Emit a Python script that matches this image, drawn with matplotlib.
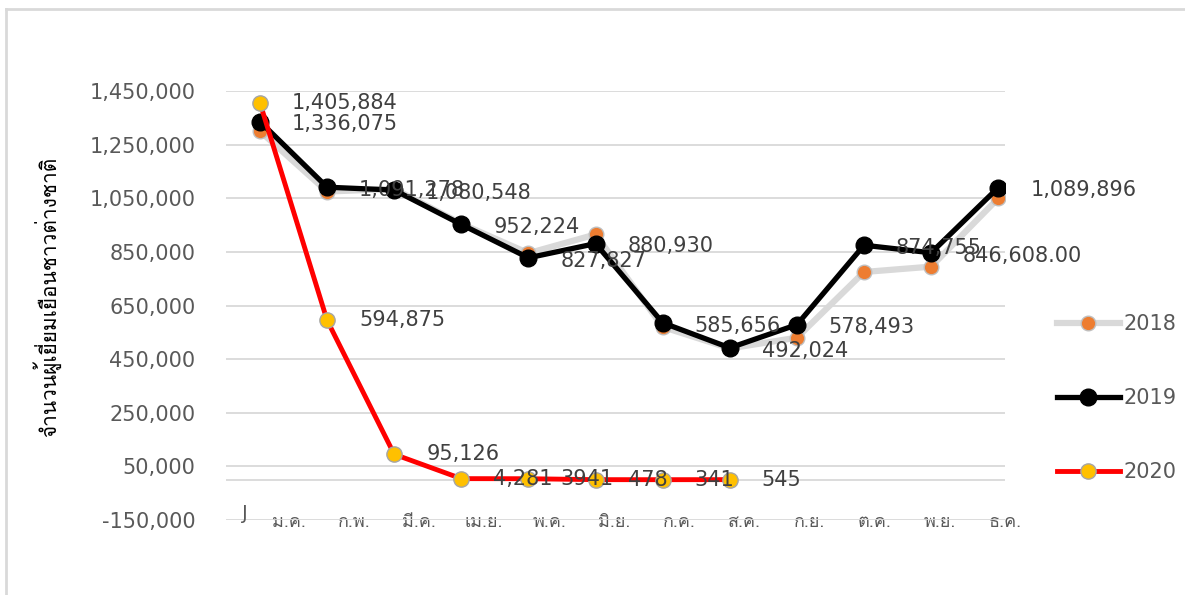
import matplotlib
matplotlib.use('Agg')
import matplotlib.pyplot as plt
from matplotlib import font_manager
from matplotlib.ft2font import FT2Font

# monthly foreign visitors, Jan..Dec
months = ['ม.ค.', 'ก.พ.', 'มี.ค.', 'เม.ย.', 'พ.ค.', 'มิ.ย.',
          'ก.ค.', 'ส.ค.', 'ก.ย.', 'ต.ค.', 'พ.ย.', 'ธ.ค.']
v2018 = [1300000, 1075000, 1085000, 955000, 845000, 915000,
         570000, 490000, 530000, 775000, 795000, 1050000]
v2019 = [1336075, 1091278, 1080548, 952224, 827827, 880930,
         585656, 492024, 578493, 874755, 846608, 1089896]
v2020 = [1405884, 594875, 95126, 4281, 3941, 478, 341, 545]
labels2019 = ['1,336,075', '1,091,278', '1,080,548', '952,224', '827,827', '880,930',
              '585,656', '492,024', '578,493', '874,755', '846,608.00', '1,089,896']
labels2020 = ['1,405,884', '594,875', '95,126', '4,281', '3941', '478', '341', '545']
yticks = [-150000, 50000, 250000, 450000, 650000, 850000, 1050000, 1250000, 1450000]
ylab = 'จำนวนผู้เยี่ยมเยือนชาวต่างชาติ'


def find_thai_font():
    for f in font_manager.fontManager.ttflist:
        try:
            if 0x0E08 in FT2Font(f.fname).get_charmap():
                return f.name
        except Exception:
            pass
    return 'DejaVu Sans'


thai = find_thai_font()
plt.rcParams['font.family'] = ['DejaVu Sans', thai]
txt = '#595959'

fig = plt.figure(figsize=(11.85, 5.95), dpi=100)
ax = fig.add_axes([226/1185, 1-520/595, (1005-226)/1185, (520-91)/595])

x18 = list(range(len(v2018)))
x19 = list(range(len(v2019)))
x20 = list(range(len(v2020)))

ax.plot(x18, v2018, color='#D9D9D9', lw=4.5, marker='o', ms=10.5,
        mfc='#ED7D31', mec='#BFBFBF', mew=1, label='2018', zorder=3)
ax.plot(x19, v2019, color='black', lw=3.8, marker='o', ms=12,
        mfc='black', mec='black', label='2019', zorder=4)
ax.plot(x20, v2020, color='#FF0000', lw=3.5, marker='o', ms=11,
        mfc='#FFC000', mec='#A5A5A5', mew=1, label='2020', zorder=5)

for x, y, s in zip(x19, v2019, labels2019):
    ax.annotate(s, (x, y), xytext=(23, -2), textcoords='offset points',
                ha='left', va='center', fontsize=15, color='#404040', zorder=6)
for x, y, s in zip(x20, v2020, labels2020):
    ax.annotate(s, (x, y), xytext=(23, 0), textcoords='offset points',
                ha='left', va='center', fontsize=15, color='#404040', zorder=6)

ax.set_ylim(-150000, 1450000)
ax.set_xlim(-0.506, 11.09)
ax.set_yticks(yticks)
ax.set_yticklabels([f'{t:,}' for t in yticks])
ax.tick_params(axis='y', length=0, pad=22, labelsize=15, labelcolor=txt)
ax.grid(axis='y', color='#D9D9D9', lw=1.3)
ax.axhline(0, color='#D9D9D9', lw=1.3, zorder=1)
ax.set_axisbelow(True)

xpos = [0.43 + i * 0.97 for i in range(len(months))]
ax.set_xticks(xpos)
ax.set_xticklabels(months, family=[thai, 'DejaVu Sans'])
ax.tick_params(axis='x', length=0, pad=-5, labelsize=13, labelcolor=txt)
ax.text(-0.22, -125000, 'J', ha='center', va='center', fontsize=14, color=txt)

for sp in ax.spines.values():
    sp.set_visible(False)

ax.set_ylabel(ylab, family=[thai, 'DejaVu Sans'], fontsize=15, color='black')
ax.yaxis.set_label_coords(-0.212, 0.52)

fig.legend(loc='center left', bbox_to_anchor=(1057/1185, 1-398/595), frameon=False,
           fontsize=15, labelspacing=2.6, handlelength=3.0, handletextpad=0.2,
           borderpad=0, borderaxespad=0, labelcolor=txt)

# chart area border (top and left)
fig.add_artist(plt.Line2D([6/1185, 1], [1-9/595, 1-9/595], color='#D9D9D9', lw=2))
fig.add_artist(plt.Line2D([6/1185, 6/1185], [0, 1-9/595], color='#D9D9D9', lw=2))

fig.savefig('out.png', dpi=100)
